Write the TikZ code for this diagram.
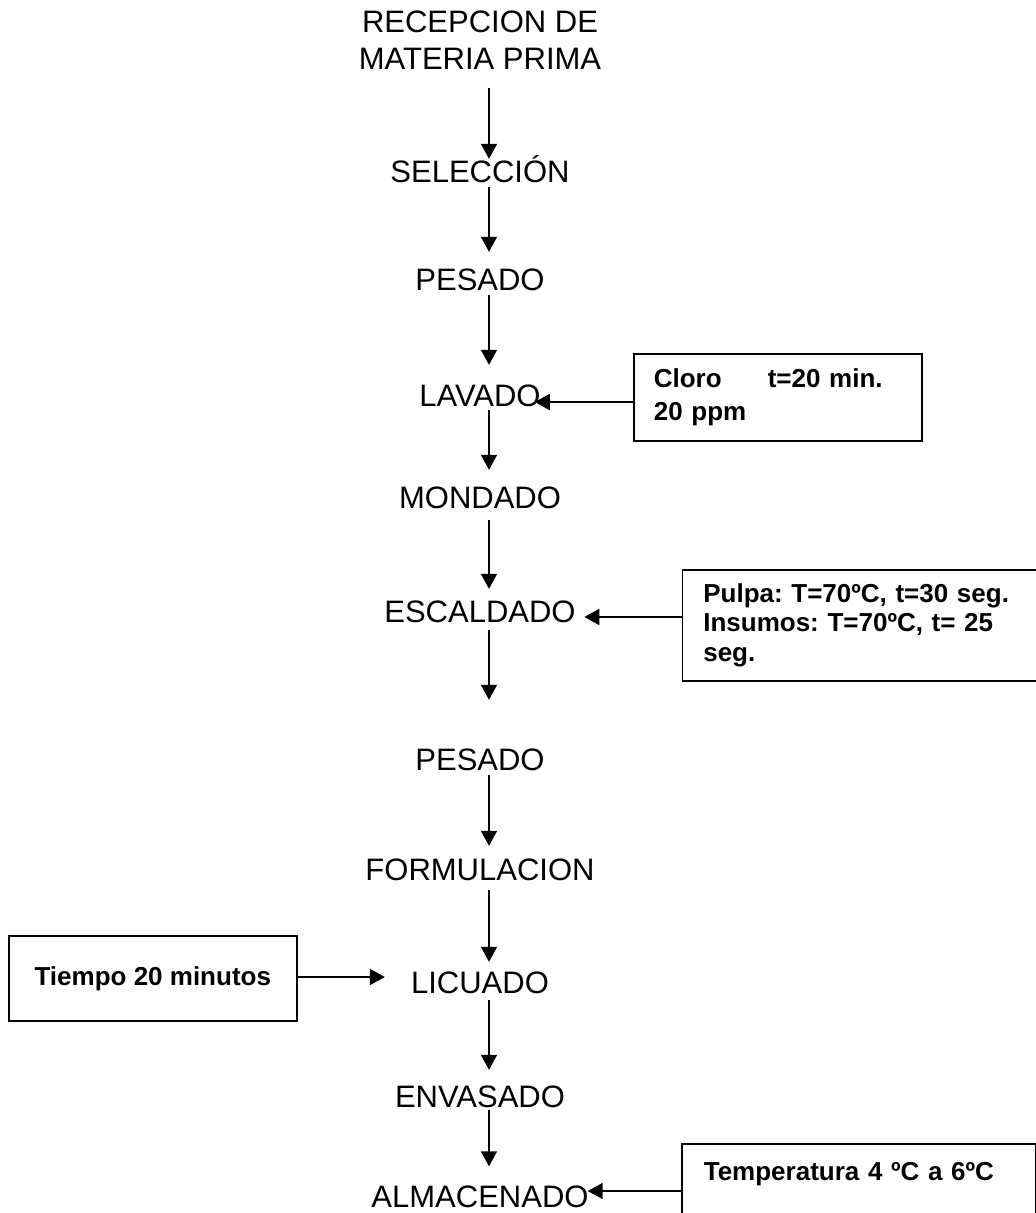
\documentclass[tikz,border=0pt]{standalone}
\usepackage{fontspec}
\setmainfont{Liberation Sans}
\usetikzlibrary{arrows.meta,calc}
\frenchspacing
\begin{document}
\begin{tikzpicture}[x=1pt,y=-1pt,
  proc/.style={font=\fontsize{31}{37}\selectfont, inner sep=0pt, text height=23pt, text depth=0pt, anchor=base},
  note/.style={draw, line width=1.6pt, font=\bfseries\fontsize{26}{29.5}\selectfont, align=left, anchor=north west},
  flow/.style={line width=1.7pt, -{Triangle[width=16pt,length=15pt]}}
]
\useasboundingbox (0,0) rectangle (1036,1213);
\clip (0,0) rectangle (1036,1213);
\coordinate (ax) at (489,0);

% process steps
\node[font=\fontsize{31}{37}\selectfont, inner sep=0pt, align=center, anchor=north] (rec) at (480,11) {RECEPCION DE\\MATERIA PRIMA};
\node[proc] (sel)  at (480,182)  {SELECCIÓN};
\node[proc] (pes1) at (480,290)  {PESADO};
\node[proc] (lav)  at (480,406)  {LAVADO};
\node[proc] (mon)  at (480,508)  {MONDADO};
\node[proc] (esc)  at (480,622)  {ESCALDADO};
\node[proc] (pes2) at (480,770)  {PESADO};
\node[proc] (form) at (480,880)  {FORMULACION};
\node[proc] (lic)  at (480,993)  {LICUADO};
\node[proc] (env)  at (480,1107) {ENVASADO};
\node[proc] (alm)  at (480,1207.5) {ALMACENADO};

% notes
\node[note, font=\bfseries\fontsize{26}{32.5}\selectfont, minimum width=288pt, minimum height=87pt, text width=248pt, inner xsep=20pt] (cloro) at (633,353)
  {\makebox[114pt][l]{Cloro}t=20 min.\\20 ppm};
\node[note, minimum width=354pt, minimum height=111pt, text width=312pt, inner xsep=21pt] (escn) at (681.5,569)
  {Pulpa: T=70ºC, t=30 seg.\\Insumos: T=70ºC, t= 25\\seg.};
\node[note, minimum width=288pt, minimum height=85pt] (tiempo) at (8,935)
  {Tiempo 20 minutos};
\node[note, text width=310pt, inner xsep=22pt, inner ysep=18.5pt, text height=18.6pt, text depth=50pt] (temp) at (681,1143)
  {Temperatura 4 ºC a 6ºC};

% vertical flow
\draw[flow] ($(rec.south -| ax)+(0,18)$)  -- ($(sel.north -| ax)+(0,0)$);
\draw[flow] ($(sel.south -| ax)+(0,5)$)   -- ($(pes1.north -| ax)+(0,-15)$);
\draw[flow] ($(pes1.south -| ax)+(0,5)$)  -- ($(lav.north -| ax)+(0,-18)$);
\draw[flow] ($(lav.south -| ax)+(0,4)$)   -- ($(mon.north -| ax)+(0,-15)$);
\draw[flow] ($(mon.south -| ax)+(0,12)$)  -- ($(esc.north -| ax)+(0,-10)$);
\draw[flow] ($(esc.south -| ax)+(0,8)$)   -- ($(pes2.north -| ax)+(0,-47)$);
\draw[flow] ($(pes2.south -| ax)+(0,5)$)  -- ($(form.north -| ax)+(0,-11)$);
\draw[flow] ($(form.south -| ax)+(0,10)$) -- ($(lic.north -| ax)+(0,-8)$);
\draw[flow] ($(lic.south -| ax)+(0,7)$)   -- ($(env.north -| ax)+(0,-14)$);
\draw[flow] ($(env.south -| ax)+(0,3)$)   -- ($(alm.north -| ax)+(0,-18)$);

% side inputs
\draw[flow] (cloro.west |- 0,402) -- ($(lav.east |- 0,402)+(-6,0)$);
\draw[flow] (escn.west |- 0,617) -- ($(esc.east |- 0,617)+(8.5,0)$);
\draw[flow] (tiempo.east |- 0,977) -- ($(lic.west |- 0,977)+(-26,0)$);
\draw[flow] (temp.west |- 0,1191) -- ($(alm.east |- 0,1191)+(-1,0)$);
\end{tikzpicture}
\end{document}
